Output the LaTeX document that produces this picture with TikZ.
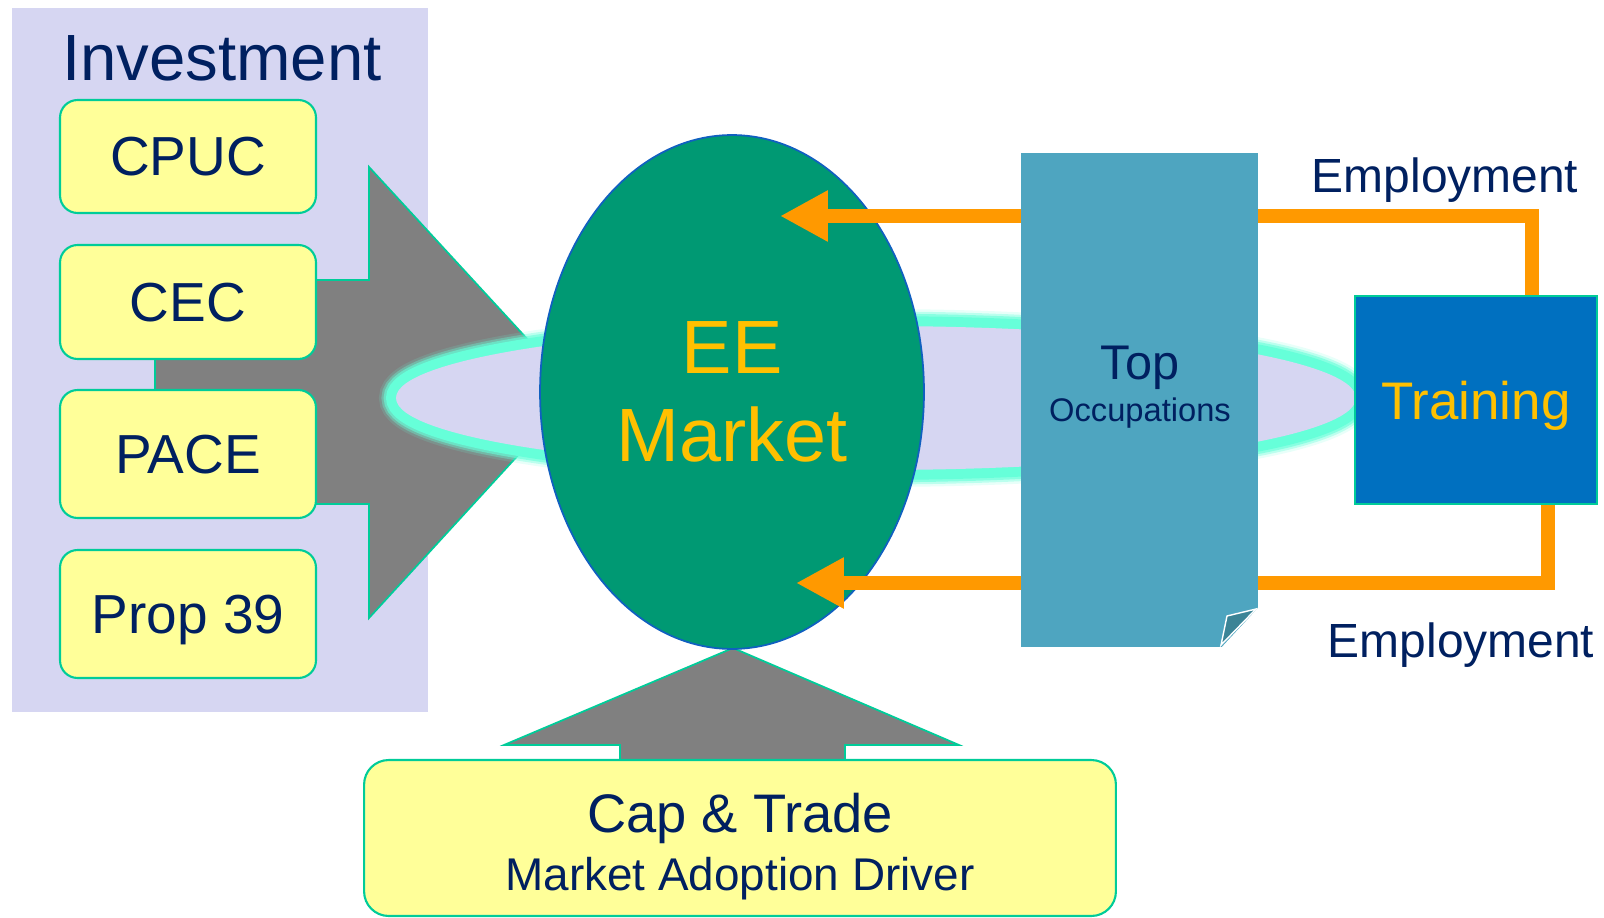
\documentclass[tikz,border=0pt]{standalone}
\usepackage{fontspec}
\setmainfont{Liberation Sans}
\usetikzlibrary{shapes.geometric,arrows.meta}
\definecolor{lav}{RGB}{214,214,242}
\definecolor{navy}{RGB}{0,32,96}
\definecolor{boxyellow}{RGB}{255,255,153}
\definecolor{edgeteal}{RGB}{0,204,153}
\definecolor{eegreen}{RGB}{0,153,115}
\definecolor{eeblue}{RGB}{16,96,192}
\definecolor{gold}{RGB}{255,192,0}
\definecolor{docblue}{RGB}{78,165,192}
\definecolor{foldblue}{RGB}{59,132,150}
\definecolor{trainblue}{RGB}{0,112,192}
\definecolor{emporange}{RGB}{255,153,0}
\definecolor{glow}{RGB}{102,255,217}
\definecolor{arrgray}{RGB}{128,128,128}
\begin{document}
\begin{tikzpicture}[x=0.02cm,y=-0.02cm,
    fund/.style={draw=edgeteal,line width=1.2pt,fill=boxyellow,rounded corners=10pt,minimum width=5.12cm,inner sep=0pt,text=navy,text depth=0pt,font=\fontsize{31.3}{36}\selectfont},
    bigarrow/.style={fill=arrgray,draw=edgeteal,line width=1pt},
    empline/.style={draw=emporange,line width=8.5pt},
    emparrow/.style={empline,-{Triangle[length=27.2pt,width=27.2pt]}},
    navytext/.style={text=navy,anchor=base,inner sep=0pt}]
    \useasboundingbox (0,0) rectangle (1604,918);
    \fill[lav] (12,8) rectangle (428,712);
    \node[navytext,font=\fontsize{37.2}{44}\selectfont] (invest) at (222,81) {Investment};
    \draw[bigarrow] (155,280) -- (369,280) -- (369,167) -- (576,392) -- (369,618) -- (369,504) -- (155,504) -- cycle;
    \node[fund,minimum height=2.26cm] (cpuc) at (188,156.5) {CPUC};
    \node[fund,minimum height=2.28cm] (cec) at (188,302) {CEC};
    \node[fund,minimum height=2.56cm] (pace) at (188,454) {PACE};
    \node[fund,minimum height=2.56cm] (prop) at (188,614) {Prop 39};
    \foreach \w/\o in {19.3/0.15,16.5/0.35,14/0.6,11.3/1}
        \draw[glow,line width=\w pt,opacity=\o] (876,398) ellipse [x radius=480,y radius=72];
    \fill[lav] (876,398) ellipse [x radius=480,y radius=72];
    \draw[bigarrow] (620,762) -- (620,745) -- (504,745) -- (733,648) -- (959,745) -- (845,745) -- (845,762) -- cycle;
    \node[ellipse,fill=eegreen,draw=eeblue,line width=1pt,minimum width=7.68cm,minimum height=10.28cm,inner sep=0pt,text=gold,align=center,font=\fontsize{43}{50.5}\selectfont] (ee) at (732,392) {EE\\Market};
    \node[fill=docblue,minimum width=4.74cm,minimum height=9.88cm,inner sep=0pt] (occ) at (1139.5,400) {};
    \fill[white] (1258,608) -- (1259,649) -- (1220,649) -- cycle;
    \filldraw[fill=foldblue,draw=white,line width=0.8pt] (1256,609) -- (1227,616) -- (1221,645) -- cycle;
    \node[navytext,font=\fontsize{27.7}{33}\selectfont] (top) at (1140,379) {Top};
    \node[navytext,font=\fontsize{18.6}{22}\selectfont] (occupations) at (1140,421) {Occupations};
    \node[fill=trainblue,draw=edgeteal,line width=1.2pt,minimum width=4.84cm,minimum height=4.16cm,inner sep=0pt,text=gold,text depth=0pt,font=\fontsize{30.1}{36}\selectfont] (train) at (1476,400) {Training};
    \coordinate (eetop) at (780,216);
    \coordinate (eebot) at (796,583);
    \draw[emparrow] (occ.west |- eetop) -- (eetop);
    \draw[emparrow] (occ.west |- eebot) -- (eebot);
    \draw[empline] (occ.east |- eetop) -| ([xshift=1.12cm]train.north);
    \draw[empline] ([xshift=1.44cm]train.south) |- (occ.east |- eebot);
    \node[navytext,font=\fontsize{27.3}{33}\selectfont] (emptop) at (1445,193) {Employment};
    \node[navytext,font=\fontsize{27.3}{33}\selectfont] (empbot) at (1461,657) {Employment};
    \node[fund,rounded corners=14pt,minimum width=15.04cm,minimum height=3.12cm] (cap) at (740,838) {};
    \node[navytext,font=\fontsize{30.9}{36}\selectfont] (captrade) at (740,832) {Cap \& Trade};
    \node[navytext,font=\fontsize{26.1}{31}\selectfont] (driver) at (740,890) {Market Adoption Driver};
\end{tikzpicture}
\end{document}
